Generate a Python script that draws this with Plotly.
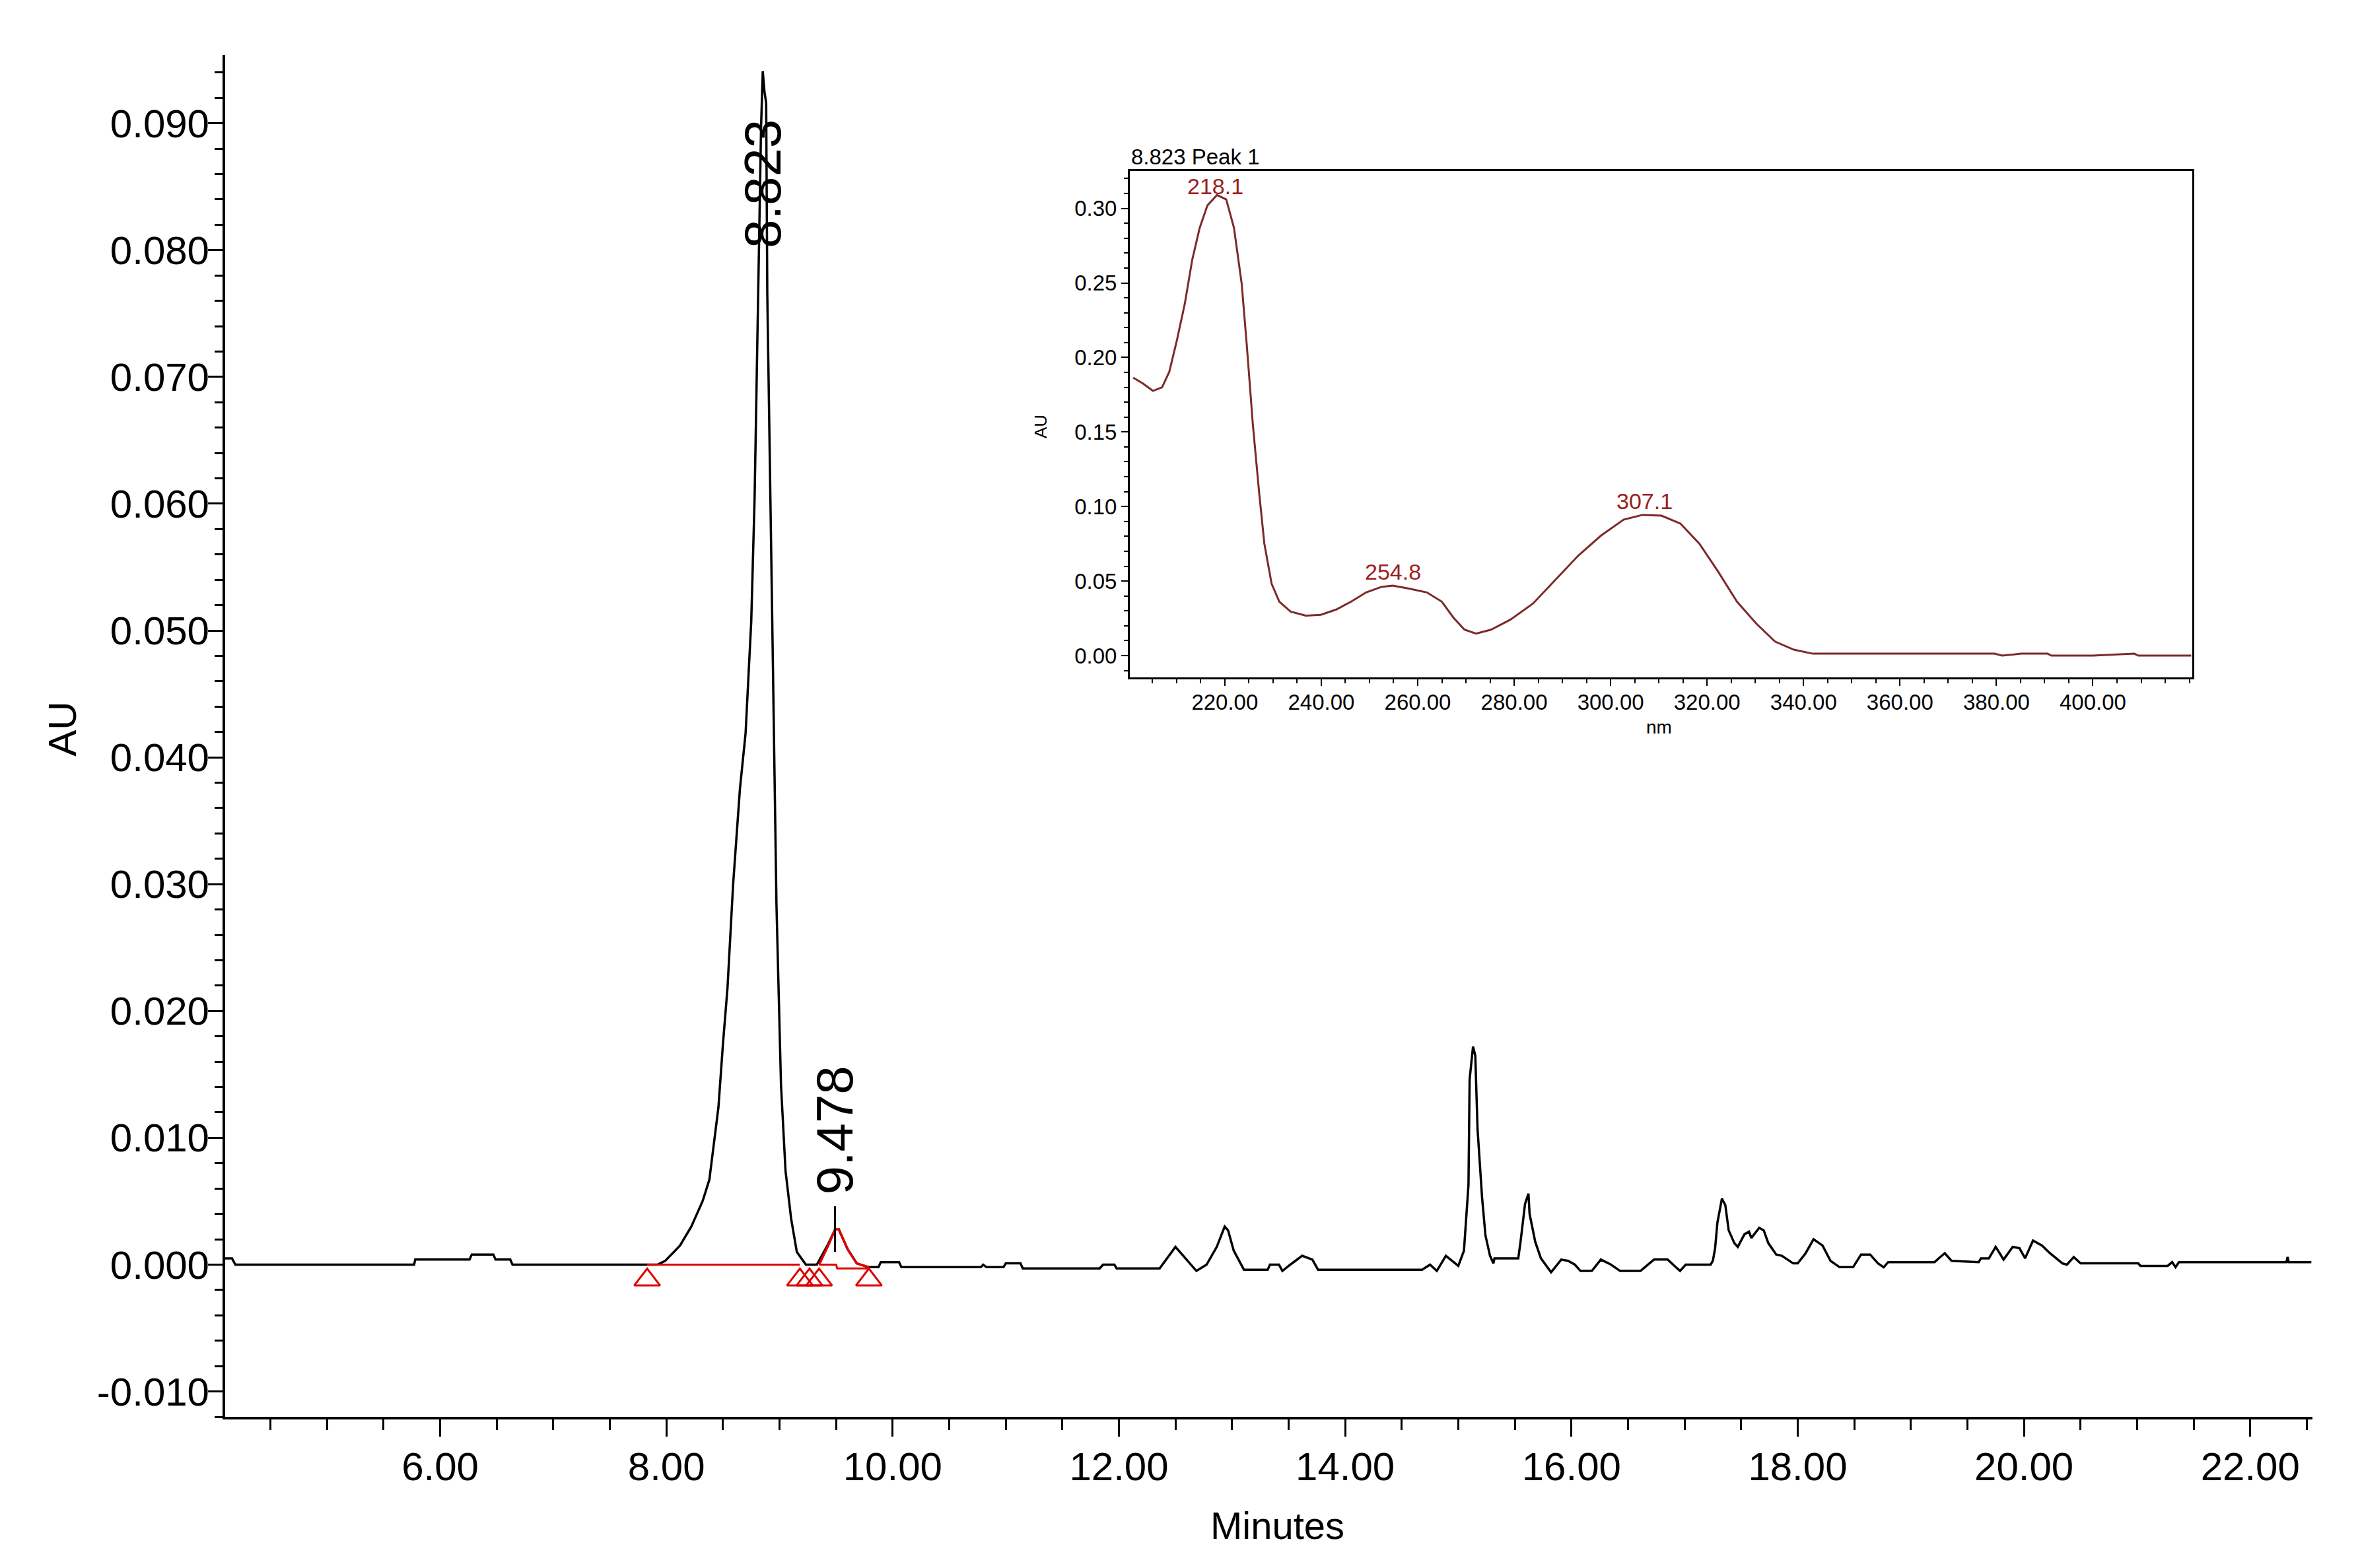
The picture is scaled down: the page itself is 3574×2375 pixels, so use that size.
import plotly.graph_objects as go

# chromatogram (minutes, AU)
time_min = [
    4.10, 4.16, 4.19, 5.77, 5.78, 6.26, 6.28, 6.47, 6.49, 6.62, 6.64, 7.92,
    7.99, 8.12, 8.22, 8.32, 8.38, 8.46, 8.50, 8.54, 8.59, 8.65, 8.70, 8.75,
    8.78, 8.81, 8.837, 8.852, 8.867, 8.882, 8.892, 8.932, 8.973, 9.013, 9.053, 9.103,
    9.153, 9.233, 9.33, 9.423, 9.493, 9.523, 9.603, 9.683, 9.785, 9.875, 9.895, 10.057,
    10.077, 10.78, 10.80, 10.83, 10.98, 11.00, 11.13, 11.15, 11.83, 11.86, 11.96, 11.98,
    12.36, 12.50, 12.685, 12.775, 12.865, 12.935, 12.965, 13.015, 13.105, 13.315, 13.335, 13.415,
    13.445, 13.515, 13.62, 13.71, 13.76, 14.68, 14.75, 14.81, 14.89, 15.00, 15.05, 15.09,
    15.10, 15.13, 15.15, 15.17, 15.21, 15.24, 15.28, 15.31, 15.32, 15.53, 15.55, 15.59,
    15.62, 15.63, 15.68, 15.73, 15.82, 15.91, 15.97, 16.03, 16.08, 16.18, 16.26, 16.35,
    16.43, 16.61, 16.73, 16.85, 16.96, 17.01, 17.23, 17.25, 17.27, 17.29, 17.33, 17.36,
    17.39, 17.44, 17.47, 17.53, 17.57, 17.59, 17.66, 17.70, 17.74, 17.81, 17.86, 17.96,
    18.00, 18.07, 18.14, 18.22, 18.29, 18.37, 18.49, 18.56, 18.64, 18.71, 18.76, 18.80,
    19.21, 19.26, 19.30, 19.36, 19.60, 19.62, 19.69, 19.75, 19.82, 19.90, 19.96, 20.01,
    20.08, 20.16, 20.23, 20.34, 20.38, 20.44, 20.50, 21.01, 21.03, 21.27, 21.31, 21.34,
    21.37, 22.32, 22.33, 22.34, 22.54,
]
absorb_au = [
    0.0005, 0.0005, 0.0, 0.0, 0.0004, 0.0004, 0.0008, 0.0008, 0.0004, 0.0004, 0.0, 0.0,
    0.0003, 0.0015, 0.0030, 0.0050, 0.0067, 0.0124, 0.0174, 0.0218, 0.0300, 0.0375, 0.0419, 0.0507,
    0.0605, 0.0759, 0.0897, 0.0941, 0.0925, 0.0916, 0.0765, 0.0530, 0.0284, 0.0142, 0.0074, 0.0036,
    0.0010, 0.0, 0.0, 0.0015, 0.0028, 0.0028, 0.0012, 0.0001, -0.0002, -0.0002, 0.0002, 0.0002,
    -0.0002, -0.0002, 0.0, -0.0002, -0.0002, 0.0001, 0.0001, -0.0003, -0.0003, 0.0, 0.0, -0.0003,
    -0.0003, 0.0014, -0.0005, 0.0, 0.0014, 0.0030, 0.0027, 0.0011, -0.0004, -0.0004, 0.0, 0.0,
    -0.0005, 0.0, 0.0007, 0.0004, -0.0004, -0.0004, 0.0, -0.0005, 0.0007, -0.0001, 0.0011, 0.0063,
    0.0146, 0.0172, 0.0165, 0.0107, 0.0053, 0.0023, 0.0007, 0.0001, 0.0005, 0.0005, 0.0018, 0.0048,
    0.0056, 0.0040, 0.0018, 0.0005, -0.0006, 0.0004, 0.0003, 0.0, -0.0005, -0.0005, 0.0004, 0.0,
    -0.0005, -0.0005, 0.0004, 0.0004, -0.0005, 0.0, 0.0, 0.0003, 0.0013, 0.0033, 0.0052, 0.0047,
    0.0027, 0.0017, 0.0014, 0.0024, 0.0026, 0.0021, 0.0029, 0.0027, 0.0017, 0.0008, 0.0007, 0.0001,
    0.0001, 0.0009, 0.0020, 0.0015, 0.0003, -0.0002, -0.0002, 0.0008, 0.0008, 0.0001, -0.0002, 0.0002,
    0.0002, 0.0006, 0.0009, 0.0003, 0.0002, 0.0005, 0.0005, 0.0014, 0.0004, 0.0014, 0.0013, 0.0005,
    0.0019, 0.0015, 0.0009, 0.0001, 0.0, 0.0006, 0.0001, 0.0001, -0.0001, -0.0001, 0.0002, -0.0002,
    0.0002, 0.0002, 0.0006, 0.0002, 0.0002,
]

# integrated small peak (drawn red) and its baselines / markers
peak2_time = [9.35, 9.43, 9.493, 9.523, 9.603, 9.683, 9.79]
peak2_au = [0.0, 0.0015, 0.0028, 0.0028, 0.0012, 0.0001, -0.0002]
base1_time = [7.83, 9.18]
base1_au = [0.0, 0.0]
base2_time = [9.35, 9.50, 9.51, 9.79]
base2_au = [0.0, 0.0, -0.0003, -0.0003]
marker_time = [7.83, 9.18, 9.265, 9.35, 9.79]
marker_au = [-0.0012, -0.0012, -0.0012, -0.0012, -0.0012]

peak_labels = ["8.823", "9.478"]
peak_label_time = [8.852, 9.485]
peak_label_au = [0.0852, 0.0106]
tick_time = [9.49, 9.49]
tick_au = [0.0010, 0.0046]

y_ticks = [-0.01, 0.0, 0.01, 0.02, 0.03, 0.04, 0.05, 0.06, 0.07, 0.08, 0.09]
y_ticktext = ["-0.010", "0.000", "0.010", "0.020", "0.030", "0.040",
              "0.050", "0.060", "0.070", "0.080", "0.090"]
x_ticks = [6, 8, 10, 12, 14, 16, 18, 20, 22]
x_ticktext = ["6.00", "8.00", "10.00", "12.00", "14.00", "16.00", "18.00", "20.00", "22.00"]

# UV spectrum of peak 1 (nm, AU)
wavelength_nm = [
    201.0, 203.05, 205.1, 207.0, 208.5, 210.1, 211.7, 213.25, 214.8, 216.4, 218.4, 220.3,
    221.9, 223.5, 224.6, 225.8, 227.1, 228.2, 229.7, 231.3, 233.65, 236.8, 239.9, 243.1,
    246.2, 249.3, 252.5, 254.8, 258.0, 261.9, 265.0, 267.4, 269.7, 272.1, 275.2, 279.2,
    283.9, 288.6, 293.3, 298.0, 302.7, 306.6, 310.55, 314.5, 318.4, 322.3, 326.2, 330.2,
    334.1, 338.0, 341.9, 359.2, 379.6, 381.2, 385.1, 390.6, 391.4, 400.0, 408.6, 409.4,
    420.4,
]
spectrum_au = [
    0.1865, 0.1825, 0.1776, 0.180, 0.1905, 0.212, 0.236, 0.2656, 0.287, 0.302, 0.309, 0.306,
    0.287, 0.2495, 0.2066, 0.1556, 0.110, 0.0751, 0.0483, 0.0362, 0.0295, 0.0268, 0.0274, 0.0309,
    0.0362, 0.0424, 0.0461, 0.0470, 0.0451, 0.0424, 0.0362, 0.0255, 0.0174, 0.0148, 0.0174, 0.0241,
    0.0349, 0.051, 0.0671, 0.0805, 0.0912, 0.0944, 0.0939, 0.0885, 0.0751, 0.0563, 0.0362, 0.0215,
    0.0094, 0.0040, 0.0013, 0.0013, 0.0013, 0.0, 0.0013, 0.0013, 0.0, 0.0, 0.0013, 0.0,
    0.0,
]
spec_labels = ["218.1", "254.8", "307.1"]
spec_label_nm = [218.0, 254.8, 307.1]
spec_label_au = [0.3147, 0.0563, 0.1038]

FONT = "Liberation Sans, Arial, sans-serif"
RED = "#e00000"
SPEC = "#7d2a2a"

fig = go.Figure()
fig.add_trace(go.Scatter(x=time_min, y=absorb_au, mode="lines",
                         line=dict(color="black", width=3.5)))
fig.add_trace(go.Scatter(x=base1_time, y=base1_au, mode="lines",
                         line=dict(color=RED, width=3)))
fig.add_trace(go.Scatter(x=base2_time, y=base2_au, mode="lines",
                         line=dict(color=RED, width=3)))
fig.add_trace(go.Scatter(x=peak2_time, y=peak2_au, mode="lines",
                         line=dict(color=RED, width=3.5)))
fig.add_trace(go.Scatter(x=tick_time, y=tick_au, mode="lines",
                         line=dict(color="black", width=3)))
fig.add_trace(go.Scatter(x=marker_time, y=marker_au, mode="markers",
                         marker=dict(symbol="triangle-up-open", size=34, color=RED,
                                     line=dict(color=RED, width=3))))
fig.add_trace(go.Scatter(x=wavelength_nm, y=spectrum_au, mode="lines",
                         line=dict(color=SPEC, width=3), xaxis="x2", yaxis="y2"))

for text, tx, ty in zip(peak_labels, peak_label_time, peak_label_au):
    fig.add_annotation(x=tx, y=ty, xref="x", yref="y", text=text, textangle=-90,
                       showarrow=False, xanchor="center", yanchor="middle",
                       font=dict(family=FONT, size=78, color="black"))
for text, tx, ty in zip(spec_labels, spec_label_nm, spec_label_au):
    fig.add_annotation(x=tx, y=ty, xref="x2", yref="y2", text=text, showarrow=False,
                       xanchor="center", yanchor="middle",
                       font=dict(family=FONT, size=34, color="#9b2020"))


def paper_text(x, y, text, size, angle=0, xanchor="center"):
    fig.add_annotation(x=x, y=y, xref="paper", yref="paper", text=text, textangle=angle,
                       showarrow=False, xanchor=xanchor, yanchor="middle",
                       font=dict(family=FONT, size=size, color="black"))


paper_text(-0.0779, 0.5051, "AU", 60, angle=-90)
paper_text(0.504, -0.0795, "Minutes", 58)
paper_text(0.4334, 0.9249, "8.823 Peak 1", 33, xanchor="left")
paper_text(0.3907, 0.7271, "AU", 26, angle=-90)
paper_text(0.6871, 0.5061, "nm", 28)

fig.update_layout(
    width=3574, height=2375,
    margin=dict(l=333, r=80, t=75, b=237),
    paper_bgcolor="white", plot_bgcolor="white",
    showlegend=False,
    font=dict(family=FONT, color="black"),
    xaxis=dict(range=[4.1, 22.55], tickvals=x_ticks, ticktext=x_ticktext,
               showgrid=False, zeroline=False,
               showline=True, linecolor="black", linewidth=4,
               ticks="outside", ticklen=26, tickwidth=3, tickcolor="black",
               ticklabelstandoff=-6,
               minor=dict(dtick=0.5, tick0=0, ticks="outside", ticklen=16,
                          tickwidth=3, tickcolor="black", showgrid=False),
               tickfont=dict(size=60, color="black")),
    yaxis=dict(range=[-0.0120, 0.0954], tickvals=y_ticks, ticktext=y_ticktext,
               showgrid=False, zeroline=False,
               showline=True, linecolor="black", linewidth=4,
               ticks="outside", ticklen=22, tickwidth=3, tickcolor="black",
               ticklabelstandoff=-14,
               minor=dict(dtick=0.002, tick0=0, ticks="outside", ticklen=12,
                          tickwidth=3, tickcolor="black", showgrid=False),
               tickfont=dict(size=60, color="black")),
    xaxis2=dict(domain=[0.4334, 0.9424], anchor="y2", range=[200.3, 420.6],
                tickvals=[220, 240, 260, 280, 300, 320, 340, 360, 380, 400],
                tickformat=".2f", showgrid=False, zeroline=False,
                showline=True, mirror=True, linecolor="black", linewidth=3,
                ticks="outside", ticklen=10, tickwidth=2, tickcolor="black",
                ticklabelstandoff=-4,
                minor=dict(dtick=5, tick0=0, ticks="outside", ticklen=6,
                           tickwidth=2, tickcolor="black", showgrid=False),
                tickfont=dict(size=33, color="black")),
    yaxis2=dict(domain=[0.5429, 0.9147], anchor="x2", range=[-0.0146, 0.3251],
                tickvals=[0, 0.05, 0.10, 0.15, 0.20, 0.25, 0.30],
                tickformat=".2f", showgrid=False, zeroline=False,
                showline=True, mirror=True, linecolor="black", linewidth=3,
                ticks="outside", ticklen=10, tickwidth=2, tickcolor="black",
                minor=dict(dtick=0.01, tick0=0, ticks="outside", ticklen=6,
                           tickwidth=2, tickcolor="black", showgrid=False),
                tickfont=dict(size=33, color="black")),
)

fig.write_html("out.html")
